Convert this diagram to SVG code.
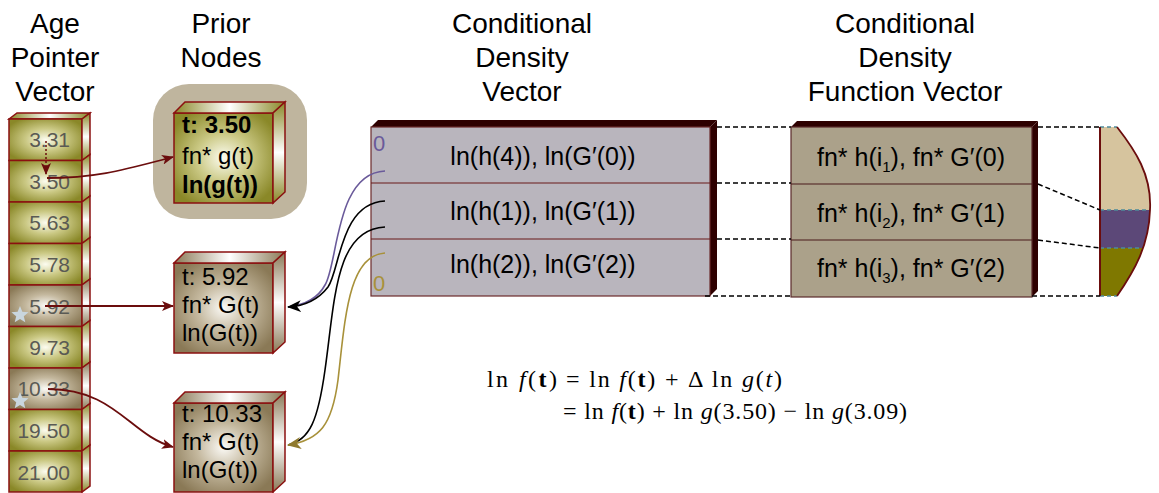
<svg xmlns="http://www.w3.org/2000/svg" width="1159" height="493" viewBox="0 0 1159 493">
<style>
.hdr{font-family:"Liberation Sans",Arial,sans-serif;font-size:28px;fill:#000;text-anchor:middle}
.cell{font-family:"Liberation Sans",Arial,sans-serif;font-size:21px;fill:#5a5a54;text-anchor:end}
.nt{font-family:"Liberation Sans",Arial,sans-serif;font-size:24px;fill:#000}
.b{font-weight:bold}
.vt{font-family:"Liberation Sans",Arial,sans-serif;font-size:25px;fill:#000;text-anchor:middle}
.eq{font-family:"Liberation Serif","Times New Roman",serif;font-size:24px;fill:#000}
.edge{stroke:#8b1010;stroke-width:1.5}
.dash{stroke:#000;stroke-width:1.5;stroke-dasharray:5,3;fill:none}
.teal{stroke:#4d8a9a;stroke-width:1.5;stroke-dasharray:4,3;fill:none}
.red{stroke:#6b0d0d;stroke-width:1.8;fill:none}
</style>
<defs>
<radialGradient id="olive" cx="0.5" cy="0.5" r="0.6">
<stop offset="0" stop-color="#fcfcf0"/><stop offset="0.45" stop-color="#cbc985"/><stop offset="1" stop-color="#8a8828"/>
</radialGradient>
<radialGradient id="taupe" cx="0.5" cy="0.5" r="0.6">
<stop offset="0" stop-color="#fbfaf6"/><stop offset="0.45" stop-color="#c4b89e"/><stop offset="1" stop-color="#8a7956"/>
</radialGradient>
<linearGradient id="sideO" x1="0" y1="0" x2="0" y2="1">
<stop offset="0" stop-color="#8a8828"/><stop offset="0.5" stop-color="#ffffff"/><stop offset="1" stop-color="#8a8828"/>
</linearGradient>
<linearGradient id="sideT" x1="0" y1="0" x2="0" y2="1">
<stop offset="0" stop-color="#8a7956"/><stop offset="0.5" stop-color="#ffffff"/><stop offset="1" stop-color="#8a7956"/>
</linearGradient>
<linearGradient id="topO" x1="0" y1="0" x2="1" y2="0">
<stop offset="0" stop-color="#8a8828"/><stop offset="0.5" stop-color="#ffffff"/><stop offset="1" stop-color="#8a8828"/>
</linearGradient>
<linearGradient id="topT" x1="0" y1="0" x2="1" y2="0">
<stop offset="0" stop-color="#8a7956"/><stop offset="0.5" stop-color="#ffffff"/><stop offset="1" stop-color="#8a7956"/>
</linearGradient>
<polygon id="star" points="0,-9 2.35,-3.24 8.56,-2.78 3.8,1.24 5.29,7.28 0,4 -5.29,7.28 -3.8,1.24 -8.56,-2.78 -2.35,-3.24" fill="#c9d6de"/>
<marker id="arrRed" viewBox="0 0 12 10" refX="11" refY="5" markerWidth="12" markerHeight="10" markerUnits="userSpaceOnUse" orient="auto">
<path d="M0,0 L12,5 L0,10 L3,5 z" fill="#6b0d0d"/>
</marker>
<marker id="arrBlack" viewBox="0 0 14 12" refX="13" refY="6" markerWidth="14" markerHeight="12" markerUnits="userSpaceOnUse" orient="auto">
<path d="M0,0 L14,6 L0,12 L4,6 z" fill="#000"/>
</marker>
<marker id="arrGold" viewBox="0 0 14 12" refX="13" refY="6" markerWidth="14" markerHeight="12" markerUnits="userSpaceOnUse" orient="auto">
<path d="M0,0 L14,6 L0,12 L4,6 z" fill="#8f7a2e"/>
</marker>
<clipPath id="shapeClip">
<path d="M1100,127 L1117,127 C1135,150 1152,175 1150,210 C1149,245 1135,270 1117,296 L1100,296 Z"/>
</clipPath>
</defs>

<g id="headers">
<text class="hdr" x="55" y="33">Age</text>
<text class="hdr" x="55" y="67">Pointer</text>
<text class="hdr" x="55" y="101">Vector</text>
<text class="hdr" x="221" y="33">Prior</text>
<text class="hdr" x="221" y="67">Nodes</text>
<text class="hdr" x="522" y="33">Conditional</text>
<text class="hdr" x="522" y="67">Density</text>
<text class="hdr" x="522" y="101">Vector</text>
<text class="hdr" x="905" y="33">Conditional</text>
<text class="hdr" x="905" y="67">Density</text>
<text class="hdr" x="905" y="101">Function Vector</text>
</g>

<g id="age-vector">
<polygon points="9,119 17,113 90,113 82,119" fill="url(#topO)" class="edge"/>
<g id="cell-0"><rect x="9" y="119" width="73" height="41.5" fill="url(#olive)" class="edge"/><polygon points="82,119 90,113 90,154.5 82,160.5" fill="url(#sideO)" class="edge"/><text class="cell" x="70" y="147">3.31</text></g>
<g id="cell-1"><rect x="9" y="160.5" width="73" height="41.5" fill="url(#olive)" class="edge"/><polygon points="82,160.5 90,154.5 90,196 82,202" fill="url(#sideO)" class="edge"/><text class="cell" x="70" y="189">3.50</text></g>
<g id="cell-2"><rect x="9" y="202" width="73" height="41.5" fill="url(#olive)" class="edge"/><polygon points="82,202 90,196 90,237.5 82,243.5" fill="url(#sideO)" class="edge"/><text class="cell" x="70" y="230">5.63</text></g>
<g id="cell-3"><rect x="9" y="243.5" width="73" height="41.5" fill="url(#olive)" class="edge"/><polygon points="82,243.5 90,237.5 90,279 82,285" fill="url(#sideO)" class="edge"/><text class="cell" x="70" y="272">5.78</text></g>
<g id="cell-4"><rect x="9" y="285" width="73" height="41.5" fill="url(#taupe)" class="edge"/><polygon points="82,285 90,279 90,320.5 82,326.5" fill="url(#sideT)" class="edge"/><text class="cell" x="70" y="314">5.92</text><use href="#star" x="20" y="315"/></g>
<g id="cell-5"><rect x="9" y="326.5" width="73" height="41.5" fill="url(#olive)" class="edge"/><polygon points="82,326.5 90,320.5 90,362 82,368" fill="url(#sideO)" class="edge"/><text class="cell" x="70" y="355">9.73</text></g>
<g id="cell-6"><rect x="9" y="368" width="73" height="41.5" fill="url(#taupe)" class="edge"/><polygon points="82,368 90,362 90,403.5 82,409.5" fill="url(#sideT)" class="edge"/><text class="cell" x="70" y="396">10.33</text><use href="#star" x="20" y="401"/></g>
<g id="cell-7"><rect x="9" y="409.5" width="73" height="41.5" fill="url(#olive)" class="edge"/><polygon points="82,409.5 90,403.5 90,445 82,451" fill="url(#sideO)" class="edge"/><text class="cell" x="70" y="438">19.50</text></g>
<g id="cell-8"><rect x="9" y="451" width="73" height="41" fill="url(#olive)" class="edge"/><polygon points="82,451 90,445 90,486 82,492" fill="url(#sideO)" class="edge"/><text class="cell" x="70" y="480">21.00</text></g>
</g>

<g id="prior-node-1">
<rect x="153" y="84" width="154" height="135" rx="36" fill="#bfb59e"/>
<rect x="174" y="113" width="99" height="90" fill="url(#olive)" class="edge" stroke-width="2"/>
<polygon points="174,113 185,102 285,102 273,113" fill="url(#topO)" class="edge" stroke-width="2"/>
<polygon points="273,113 285,102 285,192 273,203" fill="url(#sideO)" class="edge" stroke-width="2"/>
<text class="nt b" x="182" y="133">t: 3.50</text>
<text class="nt" x="182" y="164">fn* g(t)</text>
<text class="nt b" x="182" y="193">ln(g(t))</text>
</g>

<g id="prior-node-2">
<rect x="174" y="263" width="99" height="90" fill="url(#taupe)" class="edge" stroke-width="2"/>
<polygon points="174,263 185,252 285,252 273,263" fill="url(#topT)" class="edge" stroke-width="2"/>
<polygon points="273,263 285,252 285,342 273,353" fill="url(#sideT)" class="edge" stroke-width="2"/>
<text class="nt" x="182" y="285">t: 5.92</text>
<text class="nt" x="182" y="313">fn* G(t)</text>
<text class="nt" x="182" y="341">ln(G(t))</text>
</g>

<g id="prior-node-3">
<rect x="174" y="403" width="99" height="89" fill="url(#taupe)" class="edge" stroke-width="2"/>
<polygon points="174,403 185,392 285,392 273,403" fill="url(#topT)" class="edge" stroke-width="2"/>
<polygon points="273,403 285,392 285,481 273,492" fill="url(#sideT)" class="edge" stroke-width="2"/>
<text class="nt" x="182" y="422">t: 10.33</text>
<text class="nt" x="182" y="450">fn* G(t)</text>
<text class="nt" x="182" y="478">ln(G(t))</text>
</g>

<g id="cond-density-vector">
<polygon points="371,127 378,120 717,120 710,127" fill="#2e0000"/>
<polygon points="710,127 717,120 717,289 710,296" fill="#2e0000"/>
<rect x="371" y="127" width="339" height="169" fill="#b9b5bd" stroke="#6b2a2a" stroke-width="1.2"/>
<line x1="371" y1="183" x2="710" y2="183" stroke="#6b1a1a" stroke-width="1.2"/>
<line x1="371" y1="239" x2="710" y2="239" stroke="#6b1a1a" stroke-width="1.2"/>
<text class="vt" x="543" y="165">ln(h(4)), ln(G′(0))</text>
<text class="vt" x="543" y="220">ln(h(1)), ln(G′(1))</text>
<text class="vt" x="543" y="273">ln(h(2)), ln(G′(2))</text>
<text x="373" y="151" font-family="Liberation Sans, Arial, sans-serif" font-size="22" fill="#6a5a9a">0</text>
<text x="373" y="291" font-family="Liberation Sans, Arial, sans-serif" font-size="22" fill="#a8913a">0</text>
</g>

<g id="cond-density-function-vector">
<polygon points="791,127 797,121 1038,121 1032,127" fill="#2e0000"/>
<polygon points="1032,127 1038,121 1038,291 1032,297" fill="#2e0000"/>
<rect x="791" y="127" width="241" height="170" fill="#aba18a" stroke="#5a2a2a" stroke-width="1.2"/>
<line x1="791" y1="184" x2="1032" y2="184" stroke="#4a1a1a" stroke-width="1.2"/>
<line x1="791" y1="240" x2="1032" y2="240" stroke="#4a1a1a" stroke-width="1.2"/>
<text class="vt" x="911" y="166">fn* h(i<tspan font-size="15" dy="6">1</tspan><tspan dy="-6">), fn* G′(0)</tspan></text>
<text class="vt" x="911" y="222">fn* h(i<tspan font-size="15" dy="6">2</tspan><tspan dy="-6">), fn* G′(1)</tspan></text>
<text class="vt" x="911" y="277">fn* h(i<tspan font-size="15" dy="6">3</tspan><tspan dy="-6">), fn* G′(2)</tspan></text>
</g>

<g id="density-shape">
<g clip-path="url(#shapeClip)">
<rect x="1100" y="127" width="55" height="83" fill="#d6c49e"/>
<rect x="1100" y="210" width="55" height="38" fill="#5c4878"/>
<rect x="1100" y="248" width="55" height="48" fill="#7f7800"/>
</g>
<line class="teal" x1="1100" y1="127" x2="1117" y2="127"/>
<line class="teal" x1="1100" y1="210" x2="1150" y2="210"/>
<line class="teal" x1="1100" y1="248" x2="1142" y2="248"/>
<line class="teal" x1="1100" y1="296" x2="1117" y2="296"/>
<path d="M1117,127 C1135,150 1152,175 1150,210 C1149,245 1135,270 1117,296" fill="none" stroke="#6b0d0d" stroke-width="1.8"/>
<line x1="1100" y1="127" x2="1100" y2="296" stroke="#6b0d0d" stroke-width="2"/>
</g>

<g id="connectors">
<line class="dash" x1="717" y1="127" x2="791" y2="127"/>
<line class="dash" x1="717" y1="183" x2="791" y2="183"/>
<line class="dash" x1="717" y1="239" x2="791" y2="239"/>
<line class="dash" x1="705" y1="296" x2="791" y2="296"/>
<line class="dash" x1="1038" y1="127" x2="1100" y2="127"/>
<line class="dash" x1="1038" y1="184" x2="1100" y2="210"/>
<line class="dash" x1="1038" y1="240" x2="1100" y2="248"/>
<line class="dash" x1="1032" y1="296" x2="1100" y2="296"/>
<line x1="46" y1="141" x2="46" y2="174" stroke="#6b0d0d" stroke-width="1.5" stroke-dasharray="2,2" marker-end="url(#arrRed)"/>
<path class="red" d="M47,178 C100,178 130,168 173,157" marker-end="url(#arrRed)"/>
<path class="red" d="M45,306 L173,306" marker-end="url(#arrRed)"/>
<path class="red" d="M48,389 C115,389 130,435 173,447" marker-end="url(#arrRed)"/>
<path d="M385,171 C335,173 338,265 325,285 C318,298 305,305 288,307" fill="none" stroke="#6a5a9a" stroke-width="1.6"/>
<path d="M385,201 C340,203 340,270 328,287 C318,300 305,306 288,307" fill="none" stroke="#000" stroke-width="1.6" marker-end="url(#arrBlack)"/>
<path d="M385,227 C335,229 335,300 325,370 C318,420 310,440 288,445" fill="none" stroke="#000" stroke-width="1.6"/>
<path d="M385,253 C348,255 345,320 338,380 C332,425 320,440 288,445" fill="none" stroke="#a8913a" stroke-width="1.6" marker-end="url(#arrGold)"/>
</g>

<g id="equation">
<text class="eq" x="487" y="387" textLength="70" lengthAdjust="spacing">ln <tspan font-style="italic">f</tspan>(<tspan font-weight="bold">t</tspan>)</text>
<text class="eq" x="566" y="387" textLength="216" lengthAdjust="spacing">= ln <tspan font-style="italic">f</tspan>(<tspan font-weight="bold">t</tspan>) + Δ ln <tspan font-style="italic">g</tspan>(<tspan font-style="italic">t</tspan>)</text>
<text class="eq" x="563" y="419" textLength="344" lengthAdjust="spacing">= ln <tspan font-style="italic">f</tspan>(<tspan font-weight="bold">t</tspan>) + ln <tspan font-style="italic">g</tspan>(3.50) − ln <tspan font-style="italic">g</tspan>(3.09)</text>
</g>
</svg>
